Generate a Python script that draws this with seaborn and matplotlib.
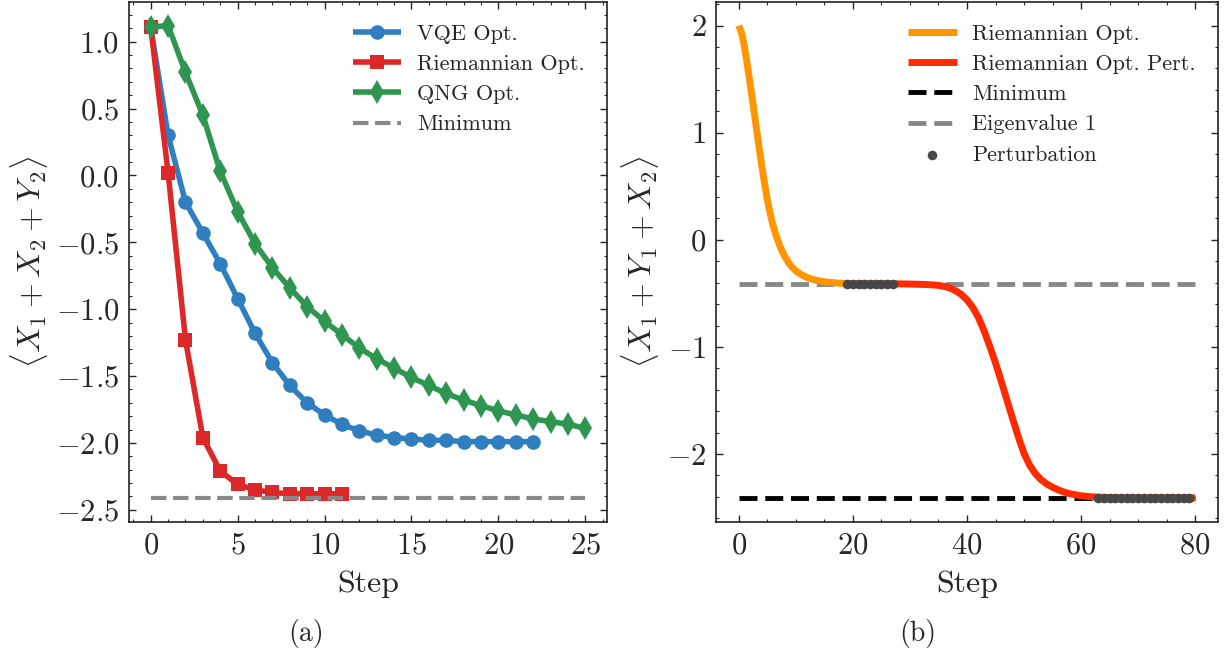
import numpy as np
import pandas as pd
import matplotlib
matplotlib.use("Agg")
import matplotlib.pyplot as plt
import seaborn as sns
from matplotlib.ticker import MultipleLocator

# ---------------- Panel (a) data ----------------
vqe_steps = list(range(0, 23))
vqe_values = [1.11, 0.30, -0.20, -0.43, -0.66, -0.92, -1.18, -1.40, -1.57, -1.70,
              -1.79, -1.86, -1.91, -1.94, -1.96, -1.97, -1.98, -1.98, -1.99, -1.99,
              -1.99, -1.99, -1.99]
riem_steps = list(range(0, 12))
riem_values = [1.11, 0.02, -1.23, -1.96, -2.21, -2.31, -2.35, -2.37, -2.38, -2.38,
               -2.38, -2.38]
qng_steps = list(range(0, 26))
qng_values = [1.11, 1.12, 0.77, 0.45, 0.03, -0.27, -0.51, -0.69, -0.84, -0.98,
              -1.09, -1.19, -1.29, -1.37, -1.44, -1.51, -1.57, -1.63, -1.68, -1.72,
              -1.76, -1.79, -1.82, -1.84, -1.86, -1.89]
minimum_a = -2.414
labels_a = ["VQE Opt.", "Riemannian Opt.", "QNG Opt.", "Minimum"]

# ---------------- Panel (b) data ----------------
riem_b_steps = [0, 0.5, 1, 1.5, 2, 2.5, 3, 3.5, 4, 4.5, 5, 5.5, 6, 6.5, 7, 7.5, 8,
                9, 10, 11, 12, 13, 14, 15, 16, 17, 18, 19]
riem_b_values = [2.00, 1.93, 1.80, 1.63, 1.45, 1.265, 1.075, 0.885, 0.70, 0.53,
                 0.375, 0.245, 0.135, 0.045, -0.03, -0.095, -0.15, -0.235, -0.29,
                 -0.327, -0.352, -0.37, -0.382, -0.391, -0.397, -0.402, -0.406, -0.41]
pert_b_steps = list(range(19, 81))
pert_b_values = [-0.41, -0.41, -0.41, -0.41, -0.41, -0.41, -0.41, -0.41, -0.41,
                 -0.411, -0.412, -0.413, -0.414, -0.416, -0.418, -0.421, -0.425,
                 -0.435, -0.45, -0.475, -0.51, -0.56, -0.63, -0.725, -0.85, -0.995,
                 -1.15, -1.32, -1.495, -1.67, -1.84, -1.995, -2.105, -2.185, -2.24,
                 -2.28, -2.31, -2.335, -2.355, -2.37, -2.38, -2.39, -2.395, -2.40,
                 -2.403, -2.406, -2.408, -2.41, -2.41, -2.41, -2.41, -2.41, -2.41,
                 -2.41, -2.41, -2.41, -2.41, -2.41, -2.41, -2.41, -2.41, -2.41]
dots_steps = list(range(19, 28)) + list(range(63, 80))
dots_values = [-0.41] * 9 + [-2.41] * 17
minimum_b = -2.414
eigen1_b = -0.414
labels_b = ["Riemannian Opt.", "Riemannian Opt. Pert.", "Minimum", "Eigenvalue 1",
            "Perturbation"]

# ---------------- Style ----------------
sns.set_style("ticks")
plt.rcParams.update({
    "font.family": "serif",
    "font.serif": ["cmr10", "DejaVu Serif"],
    "mathtext.fontset": "cm",
    "axes.formatter.use_mathtext": True,
    "axes.unicode_minus": True,
    "axes.linewidth": 1.2,
    "axes.edgecolor": "#222222",
    "xtick.direction": "in",
    "ytick.direction": "in",
    "xtick.top": True,
    "ytick.right": True,
    "xtick.minor.visible": True,
    "ytick.minor.visible": True,
    "xtick.major.size": 5,
    "ytick.major.size": 5,
    "xtick.minor.size": 2.5,
    "ytick.minor.size": 2.5,
    "xtick.major.width": 1.0,
    "ytick.major.width": 1.0,
    "xtick.minor.width": 0.8,
    "ytick.minor.width": 0.8,
    "xtick.labelsize": 22,
    "ytick.labelsize": 22,
    "lines.solid_joinstyle": "round",
    "lines.solid_capstyle": "butt",
})

W, H = 1225, 651
fig = plt.figure(figsize=(W / 100, H / 100), dpi=100)
ax1 = fig.add_axes([129 / W, 1 - 522 / H, (607 - 129) / W, (522 - 2) / H])
ax2 = fig.add_axes([716 / W, 1 - 522 / H, (1218 - 716) / W, (522 - 2) / H])

c_blue = "#2f7ec0"
c_red = "#dc2828"
c_green = "#2e9650"
c_gray = "#888888"

# Panel (a)
df_vqe = pd.DataFrame({"Step": vqe_steps, "val": vqe_values})
df_riem = pd.DataFrame({"Step": riem_steps, "val": riem_values})
df_qng = pd.DataFrame({"Step": qng_steps, "val": qng_values})
df_min_a = pd.DataFrame({"Step": [qng_steps[0], qng_steps[-1]],
                         "val": [minimum_a, minimum_a]})

sns.lineplot(data=df_vqe, x="Step", y="val", ax=ax1, color=c_blue, lw=4,
             marker="o", markersize=10.5, mec=c_blue, mew=0, label=labels_a[0])
sns.lineplot(data=df_riem, x="Step", y="val", ax=ax1, color=c_red, lw=4,
             marker="s", markersize=10, mec=c_red, mew=0, label=labels_a[1])
sns.lineplot(data=df_qng, x="Step", y="val", ax=ax1, color=c_green, lw=4,
             marker="d", markersize=12.5, mec=c_green, mew=0, label=labels_a[2])
sns.lineplot(data=df_min_a, x="Step", y="val", ax=ax1, color=c_gray, lw=3,
             linestyle="--", label=labels_a[3])

ax1.xaxis.set_major_locator(MultipleLocator(5))
ax1.xaxis.set_minor_locator(MultipleLocator(1))
ax1.yaxis.set_major_locator(MultipleLocator(0.5))
ax1.yaxis.set_minor_locator(MultipleLocator(0.1))
ax1.yaxis.set_major_formatter(matplotlib.ticker.FormatStrFormatter(r"$%.1f$"))
ax1.set_xlabel("Step", fontsize=23, labelpad=8)
ax1.set_ylabel(r"$\langle X_1 + X_2 + Y_2\rangle$", fontsize=23)

# Panel (b)
df_rb = pd.DataFrame({"Step": riem_b_steps, "val": riem_b_values})
df_pb = pd.DataFrame({"Step": pert_b_steps, "val": pert_b_values})
df_min_b = pd.DataFrame({"Step": [0, 80], "val": [minimum_b, minimum_b]})
df_eig_b = pd.DataFrame({"Step": [0, 80], "val": [eigen1_b, eigen1_b]})
df_dots = pd.DataFrame({"Step": dots_steps, "val": dots_values})

sns.lineplot(data=df_rb, x="Step", y="val", ax=ax2, color="#ff9500", lw=5,
             label=labels_b[0], zorder=3)
sns.lineplot(data=df_pb, x="Step", y="val", ax=ax2, color="#ff2a00", lw=5,
             label=labels_b[1], zorder=3)
sns.lineplot(data=df_min_b, x="Step", y="val", ax=ax2, color="black", lw=3.5,
             linestyle="--", label=labels_b[2], zorder=2)
sns.lineplot(data=df_eig_b, x="Step", y="val", ax=ax2, color=c_gray, lw=3.5,
             linestyle="--", label=labels_b[3], zorder=2)
sns.scatterplot(data=df_dots, x="Step", y="val", ax=ax2, color="#484848", s=48,
                linewidth=0, label=labels_b[4], zorder=4)

ax2.xaxis.set_major_locator(MultipleLocator(20))
ax2.xaxis.set_minor_locator(MultipleLocator(5))
ax2.yaxis.set_major_locator(MultipleLocator(1))
ax2.yaxis.set_minor_locator(MultipleLocator(0.2))
ax2.set_xlabel("Step", fontsize=23, labelpad=8)
ax2.set_ylabel(r"$\langle X_1 + Y_1 + X_2\rangle$", fontsize=23)

for ax in (ax1, ax2):
    ax.tick_params(which="both", direction="in", top=True, right=True)
    ax.tick_params(which="major", pad=7)
    ax.legend(loc="upper right", frameon=False, fontsize=16, handlelength=2.2,
              handletextpad=0.7, labelspacing=0.48, borderaxespad=0.6)

fig.text(0.25, 1 - 634 / H, "(a)", ha="center", va="center", fontsize=20)
fig.text(0.749, 1 - 634 / H, "(b)", ha="center", va="center", fontsize=20)

fig.savefig("out.png", dpi=100)
